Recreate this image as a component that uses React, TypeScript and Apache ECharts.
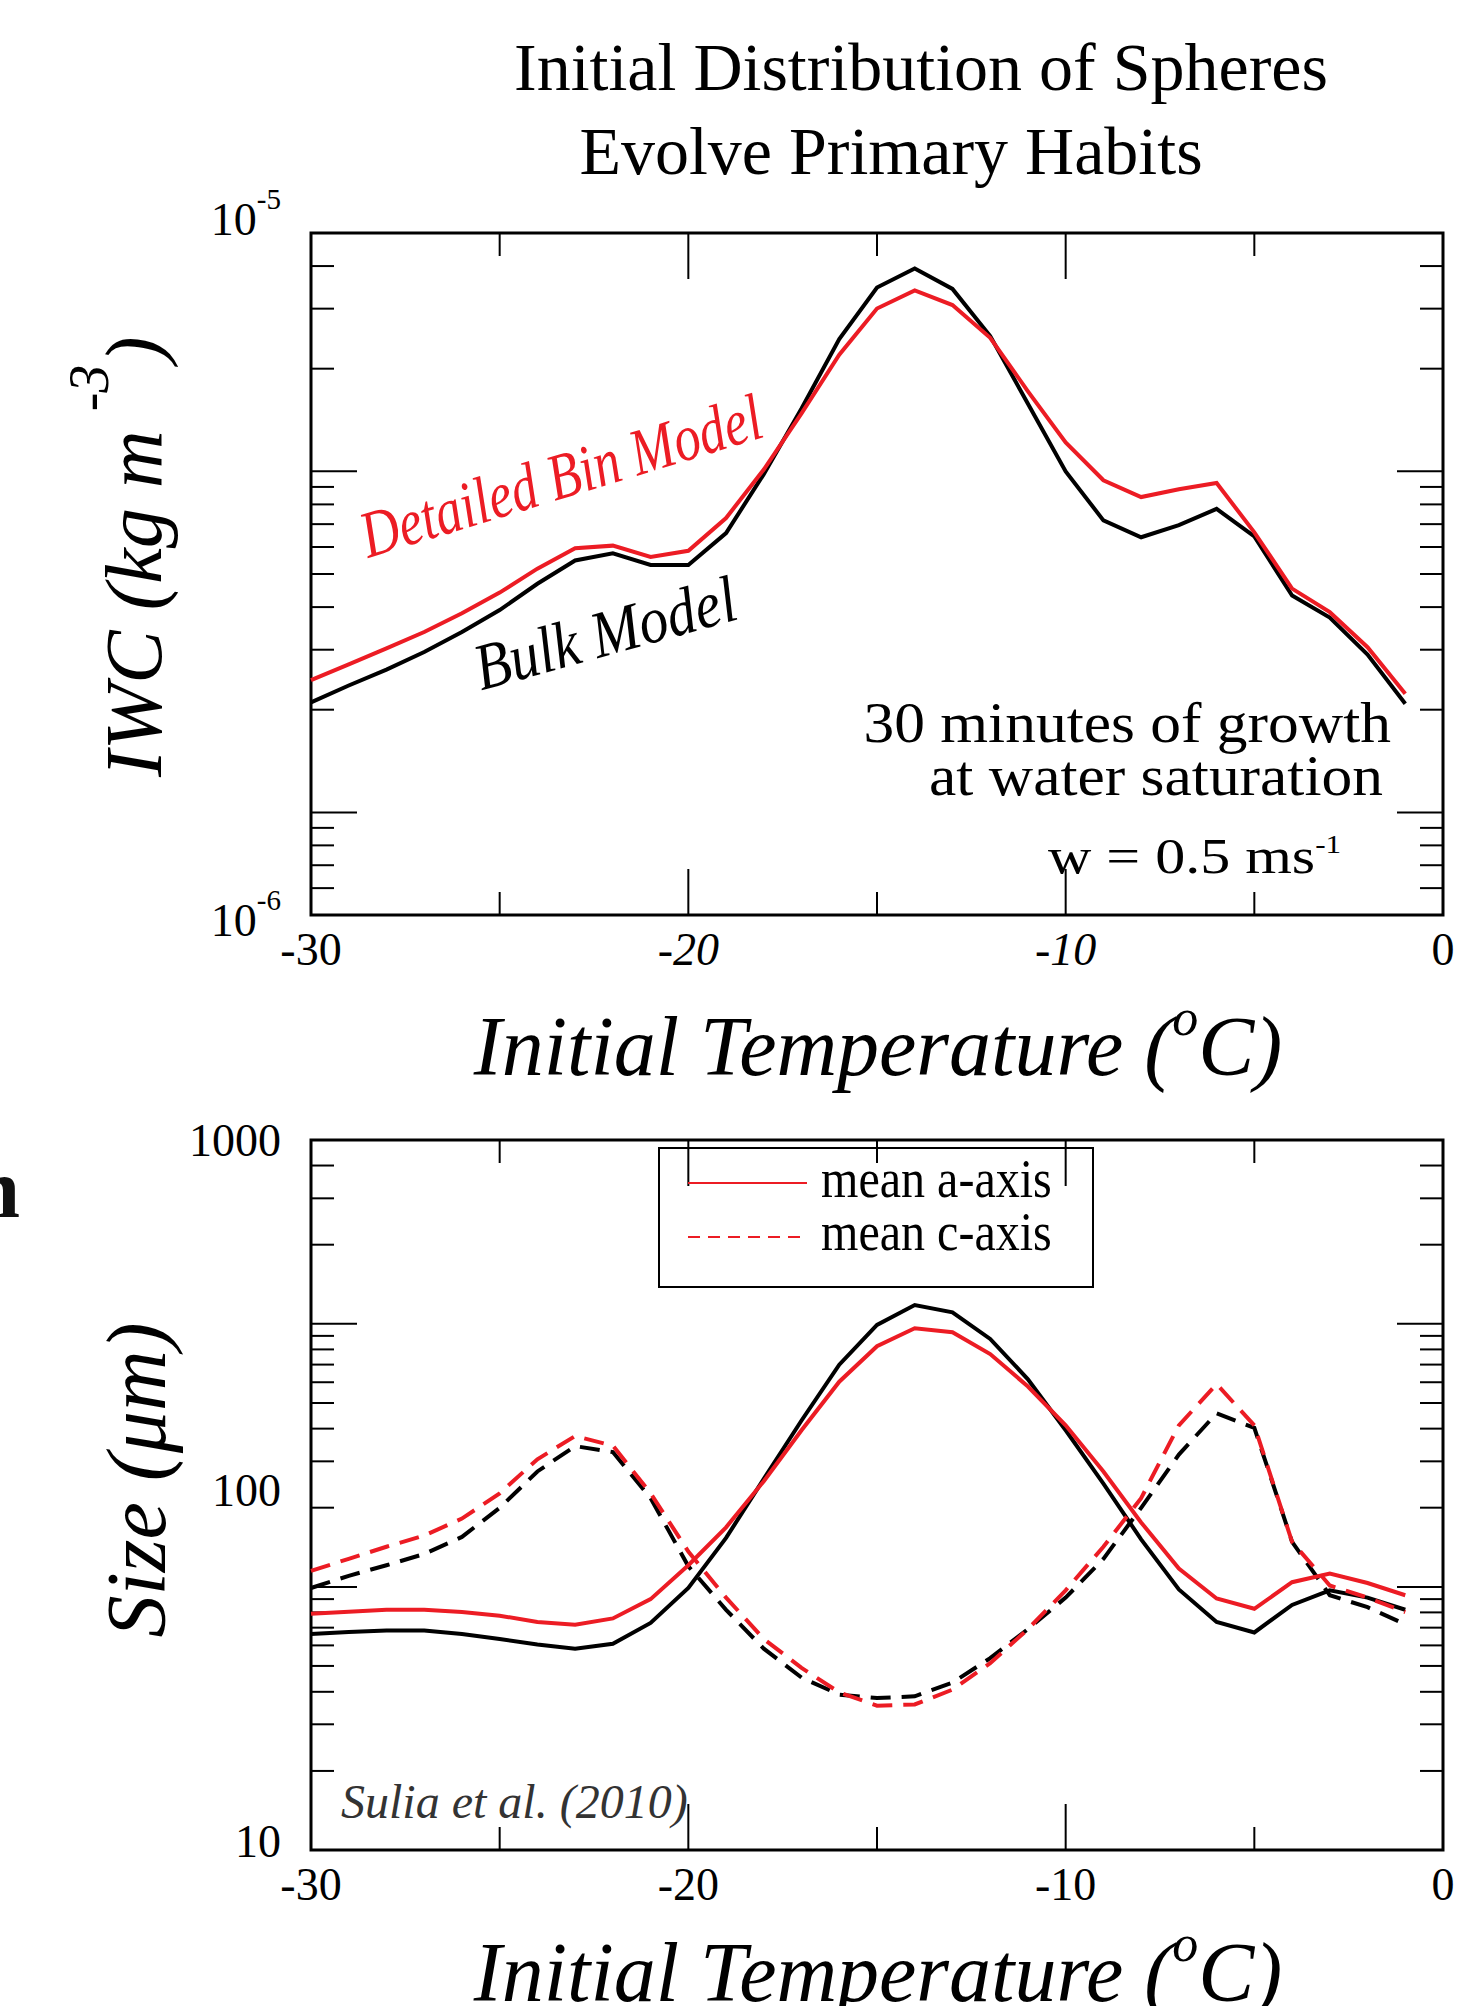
import React, { useEffect, useRef } from 'react';
import * as echarts from 'echarts';

// ---------- data ----------
const TEMPS = [-30, -29, -28, -27, -26, -25, -24, -23, -22, -21, -20, -19, -18, -17, -16, -15, -14, -13, -12, -11, -10, -9, -8, -7, -6, -5, -4, -3, -2, -1];

// IWC (kg m^-3)
const IWC_BIN = [2.21e-6, 2.33e-6, 2.46e-6, 2.60e-6, 2.77e-6, 2.97e-6, 3.22e-6, 3.45e-6, 3.48e-6, 3.35e-6, 3.42e-6, 3.82e-6, 4.50e-6, 5.44e-6, 6.63e-6, 7.75e-6, 8.24e-6, 7.84e-6, 7.02e-6, 5.86e-6, 4.93e-6, 4.34e-6, 4.10e-6, 4.21e-6, 4.30e-6, 3.64e-6, 3.01e-6, 2.78e-6, 2.47e-6, 2.11e-6];
const IWC_BULK = [2.05e-6, 2.17e-6, 2.29e-6, 2.43e-6, 2.60e-6, 2.80e-6, 3.06e-6, 3.31e-6, 3.39e-6, 3.26e-6, 3.26e-6, 3.63e-6, 4.43e-6, 5.53e-6, 6.99e-6, 8.32e-6, 8.87e-6, 8.28e-6, 7.06e-6, 5.62e-6, 4.47e-6, 3.79e-6, 3.58e-6, 3.73e-6, 3.94e-6, 3.59e-6, 2.94e-6, 2.73e-6, 2.41e-6, 2.04e-6];

// Size (micrometres)
const A_BIN = [46.3, 46.9, 47.5, 47.5, 46.8, 45.7, 43.9, 43.1, 44.9, 50.9, 63.4, 81.1, 109.4, 152.2, 208.5, 262.4, 294.9, 287.4, 249.5, 202.1, 157.1, 116.5, 83.7, 62.1, 51.1, 47.8, 56.8, 60.1, 56.5, 52.2];
const A_BULK = [40.6, 41.1, 41.5, 41.5, 40.6, 39.3, 37.9, 36.9, 38.1, 43.6, 54.7, 75.7, 111.1, 162.1, 232.8, 301.4, 342.9, 327.1, 275.2, 211.8, 152.2, 107.7, 75.0, 54.2, 43.9, 41.0, 49.0, 53.9, 51.4, 47.5];
const C_BIN = [61.1, 66.1, 71.5, 76.9, 85.8, 101.1, 126.1, 146.6, 137.7, 101.1, 69.3, 51.4, 39.3, 32.6, 27.8, 25.5, 25.7, 28.3, 33.6, 41.9, 53.9, 71.5, 98.0, 157.1, 205.3, 157.1, 73.8, 55.6, 51.4, 46.8];
const C_BULK = [54.7, 59.2, 63.4, 68.2, 76.2, 92.0, 116.5, 137.3, 132.1, 98.0, 63.0, 47.5, 36.9, 30.6, 27.4, 26.8, 27.1, 29.6, 34.7, 41.9, 51.4, 66.1, 92.0, 130.0, 169.9, 154.6, 73.8, 52.2, 48.3, 43.2];

// axis ranges & tick marks
const X_MIN = -30;
const X_MAX = 0;
const IWC_MIN = 1e-6;
const IWC_MAX = 1e-5;
const SIZE_MIN = 10;
const SIZE_MAX = 1000;
const X_TICKS_MINOR = [-25, -15, -5];
const X_TICKS_MAJOR = [-20, -10];
const TOP_ITALIC_LABELS = [-20, -10];
const IWC_TICKS_MINOR = [1.0e-6, 1.095e-6, 1.183e-6, 1.265e-6, 1.342e-6, 2.0e-6, 2.449e-6, 2.828e-6, 3.162e-6, 3.464e-6, 3.742e-6, 4.0e-6, 4.243e-6, 6.325e-6, 7.746e-6, 8.944e-6, 1.0e-5];
const IWC_TICKS_MAJOR = [1.414e-6, 4.472e-6];
const SIZE_TICKS_MINOR = [16.7, 22.6, 27.9, 33.0, 37.7, 42.3, 46.7, 50.9, 92.1, 124.4, 153.8, 181.6, 207.8, 233.0, 257.1, 280.7, 507.1, 685.0, 847.4];
const SIZE_TICKS_MAJOR = [55.1, 303.5];

const RED = '#ec1c24';
const FONT = '"Liberation Serif", "Times New Roman", Times, serif';
const TICK_SHORT = 23;
const TICK_LONG = 46;

const pairs = (ys: number[]) => TEMPS.map((t, i) => [t, ys[i]]);

function lineSeries(name: string, ys: number[], color: string, dashed: boolean, gi: number, z: number) {
  return {
    name,
    type: 'line',
    xAxisIndex: gi,
    yAxisIndex: gi,
    data: pairs(ys),
    symbol: 'none',
    silent: true,
    z,
    lineStyle: { color, width: 4, type: dashed ? [20, 11] : 'solid', cap: 'butt', join: 'miter' },
    itemStyle: { color },
  };
}

function xTickSeries(gi: number, yMin: number, yMax: number) {
  return {
    type: 'custom',
    xAxisIndex: gi,
    yAxisIndex: gi,
    silent: true,
    clip: false,
    z: 3,
    encode: { x: 0, y: 1 },
    data: [
      ...X_TICKS_MINOR.map((v) => [v, yMin, TICK_SHORT]),
      ...X_TICKS_MAJOR.map((v) => [v, yMin, TICK_LONG]),
    ],
    renderItem: (_p: any, api: any) => {
      const x = api.value(0);
      const len = api.value(2);
      const b = api.coord([x, yMin]);
      const t = api.coord([x, yMax]);
      return {
        type: 'group',
        children: [
          { type: 'line', shape: { x1: b[0], y1: b[1], x2: b[0], y2: b[1] - len }, style: { stroke: '#000', lineWidth: 2 } },
          { type: 'line', shape: { x1: t[0], y1: t[1], x2: t[0], y2: t[1] + len }, style: { stroke: '#000', lineWidth: 2 } },
        ],
      };
    },
  };
}

function yTickSeries(gi: number, minor: number[], major: number[]) {
  return {
    type: 'custom',
    xAxisIndex: gi,
    yAxisIndex: gi,
    silent: true,
    clip: false,
    z: 3,
    encode: { x: 0, y: 1 },
    data: [
      ...minor.map((v) => [X_MIN, v, TICK_SHORT]),
      ...major.map((v) => [X_MIN, v, TICK_LONG]),
    ],
    renderItem: (_p: any, api: any) => {
      const y = api.value(1);
      const len = api.value(2);
      const l = api.coord([X_MIN, y]);
      const r = api.coord([X_MAX, y]);
      return {
        type: 'group',
        children: [
          { type: 'line', shape: { x1: l[0], y1: l[1], x2: l[0] + len, y2: l[1] }, style: { stroke: '#000', lineWidth: 2 } },
          { type: 'line', shape: { x1: r[0], y1: r[1], x2: r[0] - len, y2: r[1] }, style: { stroke: '#000', lineWidth: 2 } },
        ],
      };
    },
  };
}

const labelTok = (extra: any = {}) => ({ fontFamily: FONT, fontSize: 46, color: '#000', ...extra });

function xAxis(gi: number, italic: number[]) {
  return {
    gridIndex: gi,
    type: 'value',
    min: X_MIN,
    max: X_MAX,
    interval: 10,
    axisLine: { show: false },
    axisTick: { show: false },
    splitLine: { show: false },
    axisLabel: {
      margin: 11,
      formatter: (v: number) => (italic.indexOf(v) >= 0 ? `{i|${v}}` : `{n|${v}}`),
      rich: { i: labelTok({ fontStyle: 'italic' }), n: labelTok() },
    },
  };
}

const xTitle = (y: number) => ({
  type: 'text', x: 878, y,
  style: {
    text: '{a|Initial Temperature (}{s|o}{a|C)}', textAlign: 'center', textVerticalAlign: 'middle',
    rich: {
      a: { fontFamily: FONT, fontSize: 84, fontStyle: 'italic', fill: '#000', color: '#000', verticalAlign: 'top', padding: [13, 0, 0, 0] },
      s: { fontFamily: FONT, fontSize: 52, fontStyle: 'italic', fill: '#000', color: '#000', verticalAlign: 'top' },
    },
  },
});

const rotText = (text: string, x: number, y: number, size: number, align: string) => ({
  type: 'text', x, y, rotation: Math.PI / 2,
  style: { text, font: `italic ${size}px ${FONT}`, fill: '#000', textAlign: align, textVerticalAlign: 'middle' },
});

function buildOption() {
  return {
    animation: false,
    backgroundColor: '#ffffff',
    textStyle: { fontFamily: FONT },
    grid: [
      { left: 311, top: 233, width: 1132, height: 682, show: true, borderColor: '#000', borderWidth: 3, backgroundColor: 'transparent' },
      { left: 311, top: 1140, width: 1132, height: 710, show: true, borderColor: '#000', borderWidth: 3, backgroundColor: 'transparent' },
    ],
    xAxis: [xAxis(0, TOP_ITALIC_LABELS), xAxis(1, [])],
    yAxis: [
      {
        gridIndex: 0,
        type: 'log',
        logBase: 10,
        min: IWC_MIN,
        max: IWC_MAX,
        axisLine: { show: false },
        axisTick: { show: false },
        splitLine: { show: false },
        minorTick: { show: false },
        axisLabel: {
          margin: 30,
          formatter: (v: number) => {
            const e = Math.round(Math.log10(v));
            return e === -5 ? '{a|10}{s|-5}' : '{b|10}{s|-6}';
          },
          rich: {
            a: labelTok({ verticalAlign: 'top', padding: [12, 0, 40, 0] }),
            b: labelTok({ verticalAlign: 'top', padding: [12, 0, 2, 0] }),
            s: labelTok({ fontSize: 29, verticalAlign: 'top' }),
          },
        },
      },
      {
        gridIndex: 1,
        type: 'log',
        logBase: 10,
        min: SIZE_MIN,
        max: SIZE_MAX,
        axisLine: { show: false },
        axisTick: { show: false },
        splitLine: { show: false },
        minorTick: { show: false },
        axisLabel: {
          margin: 30,
          formatter: (v: number) => {
            const e = Math.round(Math.log10(v));
            if (e === 3) return '{k|1000}';
            if (e === 2) return '{h|100}';
            return '{t|10}';
          },
          rich: {
            k: labelTok(),
            h: labelTok({ padding: [0, 0, 10, 0] }),
            t: labelTok({ padding: [0, 0, 18, 0] }),
          },
        },
      },
    ],
    series: [
      xTickSeries(0, IWC_MIN, IWC_MAX),
      yTickSeries(0, IWC_TICKS_MINOR, IWC_TICKS_MAJOR),
      xTickSeries(1, SIZE_MIN, SIZE_MAX),
      yTickSeries(1, SIZE_TICKS_MINOR, SIZE_TICKS_MAJOR),
      lineSeries('Bulk Model', IWC_BULK, '#000', false, 0, 5),
      lineSeries('Detailed Bin Model', IWC_BIN, RED, false, 0, 6),
      lineSeries('Bulk mean a-axis', A_BULK, '#000', false, 1, 5),
      lineSeries('Bulk mean c-axis', C_BULK, '#000', true, 1, 5),
      lineSeries('mean a-axis', A_BIN, RED, false, 1, 6),
      lineSeries('mean c-axis', C_BIN, RED, true, 1, 6),
    ],
    graphic: [
      // titles
      { type: 'text', x: 921, y: 67, style: { text: 'Initial Distribution of Spheres', font: `68px ${FONT}`, fill: '#000', textAlign: 'center', textVerticalAlign: 'middle' } },
      { type: 'text', x: 891, y: 151, style: { text: 'Evolve Primary Habits', font: `68px ${FONT}`, fill: '#000', textAlign: 'center', textVerticalAlign: 'middle' } },
      // y axis title (top): IWC (kg m^-3)
      rotText('IWC (kg m', 134, 777, 80, 'left'),
      rotText('-3', 89, 388, 56, 'center'),
      rotText(')', 134, 350, 80, 'center'),
      // x axis title (top)
      xTitle(1040),
      // model labels
      { type: 'text', x: 561, y: 476, rotation: (17 * Math.PI) / 180, scaleX: 0.8, style: { text: 'Detailed Bin Model', font: `italic 66px ${FONT}`, fill: RED, textAlign: 'center', textVerticalAlign: 'middle' } },
      { type: 'text', x: 605, y: 633, rotation: (15.5 * Math.PI) / 180, scaleX: 0.88, style: { text: 'Bulk Model', font: `italic 66px ${FONT}`, fill: '#000', textAlign: 'center', textVerticalAlign: 'middle' } },
      // annotation
      { type: 'text', x: 1391, y: 723, scaleX: 1.06, style: { text: '30 minutes of growth', font: `58px ${FONT}`, fill: '#000', textAlign: 'right', textVerticalAlign: 'middle' } },
      { type: 'text', x: 1383, y: 776, scaleX: 1.06, style: { text: 'at water saturation', font: `58px ${FONT}`, fill: '#000', textAlign: 'right', textVerticalAlign: 'middle' } },
      {
        type: 'text', x: 1048, y: 856, scaleX: 1.2,
        style: {
          text: '{a|w = 0.5 ms}{s|-1}', textAlign: 'left', textVerticalAlign: 'middle',
          rich: {
            a: { fontFamily: FONT, fontSize: 50, fill: '#000', color: '#000', verticalAlign: 'top' },
            s: { fontFamily: FONT, fontSize: 26, fill: '#000', color: '#000', verticalAlign: 'top' },
          },
        },
      },
      // bottom y title
      rotText('Size (μm)', 136, 1480, 84, 'center'),
      // bottom x title (cut by the page edge, as in the source figure)
      xTitle(1966),
      // legend
      { type: 'rect', shape: { x: 659, y: 1148, width: 434, height: 139 }, style: { fill: 'none', stroke: '#000', lineWidth: 2 }, z: 10 },
      { type: 'line', shape: { x1: 688, y1: 1183, x2: 807, y2: 1183 }, style: { stroke: RED, lineWidth: 2 }, z: 10 },
      { type: 'line', shape: { x1: 688, y1: 1237, x2: 807, y2: 1237 }, style: { stroke: RED, lineWidth: 2, lineDash: [12, 8] }, z: 10 },
      { type: 'text', x: 821, y: 1179, scaleX: 0.89, style: { text: 'mean a-axis', font: `54px ${FONT}`, fill: '#000', textAlign: 'left', textVerticalAlign: 'middle' }, z: 10 },
      { type: 'text', x: 821, y: 1232, scaleX: 0.89, style: { text: 'mean c-axis', font: `54px ${FONT}`, fill: '#000', textAlign: 'left', textVerticalAlign: 'middle' }, z: 10 },
      // citation
      { type: 'text', x: 341, y: 1801, style: { text: 'Sulia et al. (2010)', font: `italic 48px ${FONT}`, fill: '#333', textAlign: 'left', textVerticalAlign: 'middle' } },
      // cropped neighbouring glyph at left edge
      { type: 'text', x: 20, y: 1188, style: { text: 'n', font: `bold 84px ${FONT}`, fill: '#111', textAlign: 'right', textVerticalAlign: 'middle' } },
    ],
  };
}

export default function App() {
  const ref = useRef<HTMLDivElement>(null);
  useEffect(() => {
    document.body.style.margin = '0';
    const chart = echarts.init(ref.current as HTMLDivElement, null, { renderer: 'svg' });
    chart.setOption(buildOption() as any);
    return () => chart.dispose();
  }, []);
  return (
    <div
      ref={ref}
      style={{ position: 'absolute', left: 0, top: 0, width: 1474, height: 2006, background: '#fff' }}
    />
  );
}
